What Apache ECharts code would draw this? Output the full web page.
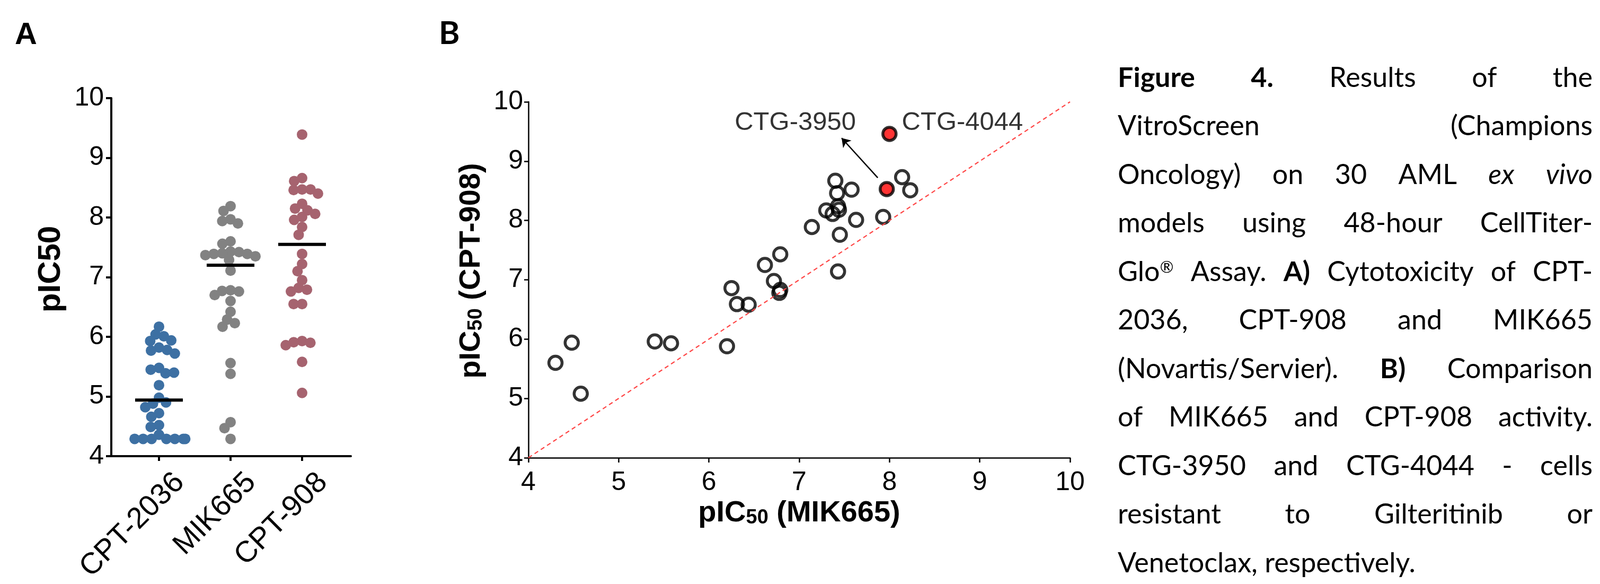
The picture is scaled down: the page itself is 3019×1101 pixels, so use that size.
<!DOCTYPE html>
<html>
<head>
<meta charset="utf-8">
<script src="https://cdn.jsdelivr.net/npm/echarts@6/dist/echarts.min.js"></script>
<style>
  html, body { margin: 0; padding: 0; background: #fff; }
  #chart { width: 3019px; height: 1101px; }
</style>
</head>
<body>
<div id="chart"></div>
<script>
// Panel A: pIC50 of each AML model per compound
const groupNames = ['CPT-2036', 'MIK665', 'CPT-908'];
const cpt2036 = [6.17, 6.04, 6.01, 5.93, 5.94, 5.82, 5.77, 5.78, 5.72, 5.48, 5.45, 5.39, 5.40, 5.19, 4.98,
                 4.88, 4.90, 4.82, 4.72, 4.66, 4.52, 4.49, 4.36, 4.29, 4.29, 4.29, 4.29, 4.29, 4.29, 4.29];
const mik665 = [8.19, 8.11, 7.97, 7.94, 7.90, 7.60, 7.56, 7.43, 7.40, 7.42, 7.39, 7.39, 7.37, 7.35, 7.29,
                7.11, 6.78, 6.77, 6.76, 6.70, 6.60, 6.42, 6.29, 6.23, 6.17, 5.56, 5.38, 4.57, 4.47, 4.29];
const cpt908 = [9.39, 8.66, 8.61, 8.47, 8.47, 8.46, 8.40, 8.23, 8.15, 8.12, 8.06, 8.01, 7.96, 7.84, 7.71,
                7.39, 7.22, 7.10, 6.95, 6.82, 6.79, 6.76, 6.55, 6.55, 5.93, 5.91, 5.90, 5.86, 5.58, 5.06];
const groupColors = ['#3d70a3', '#828282', '#a6636f'];

// Panel B: MIK665 (x) vs CPT-908 (y)
const mikX = [4.30, 4.48, 4.58, 5.40, 5.58, 6.20, 6.25, 6.31, 6.44, 6.62, 6.79, 6.72, 6.79, 6.78, 7.14,
              7.43, 7.45, 7.63, 7.40, 7.58, 7.42, 7.30, 7.37, 7.43, 7.44, 7.93, 8.14, 8.23];
const cptY = [5.60, 5.94, 5.08, 5.96, 5.93, 5.88, 6.86, 6.59, 6.58, 7.25, 7.43, 6.98, 6.83, 6.78, 7.89,
              7.14, 7.76, 8.01, 8.67, 8.52, 8.46, 8.17, 8.11, 8.24, 8.18, 8.06, 8.73, 8.51];
const resistantNames = ['CTG-3950', 'CTG-4044'];
const resistantX = [7.97, 8.00];
const resistantY = [8.53, 9.46];
const identityX = [4, 10];
const identityY = [4, 10];
// arrow next to CTG-3950 (from, to) in data units
const arrowFrom = [7.87, 8.72];
const arrowTo = [7.47, 9.39];

// ** = bold, _ = italic, ^ = superscript tail
const captionLines = [
    '**Figure** **4.** Results of the',
    'VitroScreen (Champions',
    'Oncology) on 30 AML _ex_ _vivo_',
    'models using 48-hour CellTiter-',
    'Glo^® Assay. **A)** Cytotoxicity of CPT-',
    '2036, CPT-908 and MIK665',
    '(Novartis/Servier). **B)** Comparison',
    'of MIK665 and CPT-908 activity.',
    'CTG-3950 and CTG-4044 - cells',
    'resistant to Gilteritinib or',
    'Venetoclax, respectively.'
];

const FONT = '"Liberation Sans", Arial, sans-serif';

function median(arr) {
    const s = arr.slice().sort((a, b) => a - b);
    const m = s.length >> 1;
    return s.length % 2 ? s[m] : (s[m - 1] + s[m]) / 2;
}

// justified caption, one text element per word
function buildCaption() {
    const left = 2109, right = 3005, firstBase = 167, lineStep = 91.5, lastLineWidth = 562;
    const ctx = document.createElement('canvas').getContext('2d');
    const parse = w => {
        if (w.startsWith('**')) return { t: w.slice(2, -2), bold: true, ital: false };
        if (w.startsWith('_')) return { t: w.slice(1, -1), bold: false, ital: true };
        const k = w.indexOf('^');
        if (k > 0) return { t: w.slice(0, k), sup: w.slice(k + 1), bold: false, ital: false };
        return { t: w, bold: false, ital: false };
    };
    const font = (p, size) => `${p.ital ? 'italic ' : ''}${p.bold ? 'bold ' : ''}${size}px Lato`;
    const measure = (p, size) => {
        ctx.font = font(p, size);
        let w = ctx.measureText(p.t).width;
        if (p.sup) { ctx.font = `${size * 0.6}px Lato`; w += ctx.measureText(p.sup).width; }
        return w;
    };
    const lines = captionLines.map(l => l.split(' ').map(parse));
    ctx.font = '100px Lato';
    const space100 = ctx.measureText(' ').width;
    const lastW = lines[lines.length - 1].map(p => measure(p, 100)).reduce((a, b) => a + b, 0)
        + space100 * (lines[lines.length - 1].length - 1);
    const baseSize = 100 * lastLineWidth / lastW;
    const els = [];
    lines.forEach((ws, i) => {
        const last = i === lines.length - 1;
        let size = baseSize;
        let widths = ws.map(p => measure(p, size));
        let total = widths.reduce((a, b) => a + b, 0);
        const minGap = space100 * size / 100 * 0.55;
        if (!last && total + minGap * (ws.length - 1) > right - left) {
            size = size * (right - left) / (total + minGap * (ws.length - 1));
            widths = ws.map(p => measure(p, size));
            total = widths.reduce((a, b) => a + b, 0);
        }
        const gap = last ? space100 * size / 100 : (right - left - total) / (ws.length - 1);
        let x = left;
        const base = firstBase + i * lineStep;
        ws.forEach((p, j) => {
            els.push({
                type: 'text', x: x, y: base - 0.387 * size, silent: true,
                style: { text: p.t, font: font(p, size), fill: '#000', align: 'left', verticalAlign: 'middle' }
            });
            if (p.sup) {
                ctx.font = font(p, size);
                const bw = ctx.measureText(p.t).width;
                els.push({
                    type: 'text', x: x + bw, y: base - 0.55 * size, silent: true,
                    style: { text: p.sup, font: `${size * 0.6}px Lato`, fill: '#000', align: 'left', verticalAlign: 'middle' }
                });
            }
            x += widths[j] + gap;
        });
    });
    return els;
}

const chart = echarts.init(document.getElementById('chart'));

const hiddenY = gi => ({ gridIndex: gi, type: 'value', min: 4, max: 10, show: false });
const subRich = size => ({
    b: { fontSize: size, fontWeight: 'bold', fontFamily: FONT, color: '#000', lineHeight: size },
    s: { fontSize: Math.round(size * 0.68), fontWeight: 'bold', fontFamily: FONT, color: '#000', lineHeight: 20, verticalAlign: 'bottom' }
});

const groups = [cpt2036, mik665, cpt908];

chart.setOption({
    animation: false,
    backgroundColor: '#fff',
    grid: [
        { left: 210, top: 185, width: 452, height: 675 },   // A: frame
        { left: 232.5, top: 185, width: 405, height: 675 }, // A: points
        { left: 271.5, top: 185, width: 405, height: 675 }, // A: rotated labels
        { left: 997, top: 192, width: 1022, height: 671 }   // B
    ],
    xAxis: [
        { gridIndex: 0, type: 'value', min: 0, max: 1,
          axisLine: { onZero: false, lineStyle: { color: '#000', width: 4 } },
          axisTick: { show: false }, axisLabel: { show: false }, splitLine: { show: false } },
        { gridIndex: 1, type: 'category', data: groupNames,
          jitter: 120, jitterOverlap: false, jitterMargin: -4,
          axisLine: { show: false },
          axisTick: { show: true, alignWithLabel: true, length: 9, lineStyle: { color: '#000', width: 4 } },
          axisLabel: { show: false }, splitLine: { show: false } },
        { gridIndex: 2, type: 'category', data: groupNames,
          axisLine: { show: false }, axisTick: { show: false }, splitLine: { show: false },
          axisLabel: { rotate: 45, margin: 82, interval: 0, fontSize: 56, color: '#000', fontFamily: FONT } },
        { gridIndex: 3, type: 'value', min: 4, max: 10, interval: 1,
          name: '{b|pIC}{s|50}{b| (MIK665)}', nameLocation: 'middle', nameGap: 75,
          nameTextStyle: { rich: subRich(56) },
          axisLine: { onZero: false, lineStyle: { color: '#000', width: 2.5 } },
          axisTick: { length: 9, lineStyle: { color: '#000', width: 2.5 } },
          axisLabel: { fontSize: 50, margin: 22, color: '#000', fontFamily: FONT },
          splitLine: { show: false } }
    ],
    yAxis: [
        { gridIndex: 0, type: 'value', min: 4, max: 10, interval: 1,
          name: 'pIC50', nameLocation: 'middle', nameGap: 84,
          nameTextStyle: { fontSize: 60, fontWeight: 'bold', fontFamily: FONT, color: '#000', padding: [0, 0, 0, 30] },
          axisLine: { onZero: false, lineStyle: { color: '#000', width: 4 } },
          axisTick: { length: 10, lineStyle: { color: '#000', width: 4 } },
          axisLabel: { fontSize: 50, margin: 14, color: '#000', fontFamily: FONT },
          splitLine: { show: false } },
        hiddenY(1),
        hiddenY(2),
        { gridIndex: 3, type: 'value', min: 4, max: 10, interval: 1,
          name: '{b|pIC}{s|50}{b| (CPT-908)}', nameLocation: 'middle', nameGap: 79,
          nameTextStyle: { rich: subRich(56), padding: [0, 0, 0, 34] },
          axisLine: { onZero: false, lineStyle: { color: '#000', width: 2.5 } },
          axisTick: { length: 8, lineStyle: { color: '#000', width: 2.5 } },
          axisLabel: { fontSize: 50, margin: 10, color: '#000', fontFamily: FONT },
          splitLine: { show: false } }
    ],
    series: [
        ...groups.map((vals, i) => ({
            name: groupNames[i], type: 'scatter', xAxisIndex: 1, yAxisIndex: 1,
            symbolSize: 20, itemStyle: { color: groupColors[i], opacity: 1 },
            data: vals.map(v => [groupNames[i], v])
        })),
        {
            // median bars
            type: 'custom', xAxisIndex: 1, yAxisIndex: 1, z: 10,
            data: groups.map((vals, i) => [i, median(vals)]),
            renderItem: (params, api) => {
                const c = api.coord([api.value(0), api.value(1)]);
                return { type: 'rect', shape: { x: c[0] - 45, y: c[1] - 3, width: 90, height: 6 }, style: { fill: '#000' } };
            }
        },
        {
            type: 'line', xAxisIndex: 3, yAxisIndex: 3, showSymbol: false, silent: true,
            lineStyle: { color: '#ff4545', width: 2.2, type: [8, 6] },
            data: identityX.map((x, i) => [x, identityY[i]])
        },
        {
            type: 'scatter', xAxisIndex: 3, yAxisIndex: 3, symbolSize: 25,
            itemStyle: { color: 'rgba(0,0,0,0)', borderColor: '#000', borderWidth: 5.5 },
            data: mikX.map((x, i) => [x, cptY[i]])
        },
        {
            type: 'scatter', xAxisIndex: 3, yAxisIndex: 3, symbolSize: 25,
            itemStyle: { color: '#ff0000', borderColor: '#000', borderWidth: 5.5 },
            label: { show: true, formatter: p => p.name, fontSize: 49, color: '#000', fontFamily: FONT },
            data: resistantNames.map((n, i) => ({
                name: n, value: [resistantX[i], resistantY[i]],
                label: i === 0 ? { position: 'left', offset: [-38, -125] } : { position: 'right', offset: [3, -21] }
            })),
            markLine: {
                silent: true, symbol: ['none', 'arrow'], symbolSize: 16,
                lineStyle: { color: '#000', width: 2.5, type: 'solid' },
                label: { show: false },
                data: [[{ coord: arrowFrom }, { coord: arrowTo }]]
            }
        }
    ],
    graphic: [
        { type: 'text', x: 28, y: 67, style: { text: 'A', font: `bold 58px ${FONT}`, fill: '#000', verticalAlign: 'middle' } },
        { type: 'text', x: 828, y: 64, style: { text: 'B', font: 'bold 60px Lato', fill: '#000', verticalAlign: 'middle' } },
        ...buildCaption()
    ]
});
</script>
</body>
</html>
